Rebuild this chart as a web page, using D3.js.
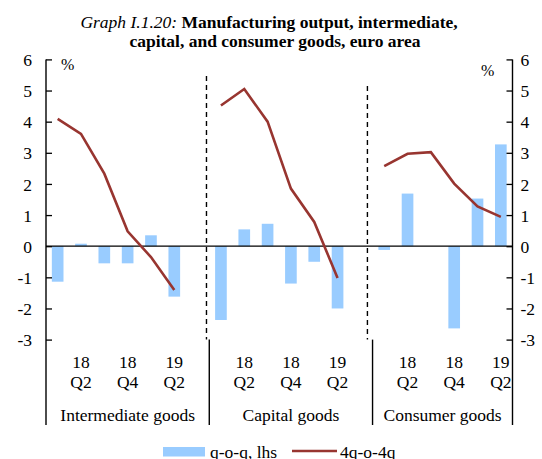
<!DOCTYPE html>
<meta charset="utf-8">
<style>
body { margin: 0; background: #fff; }
svg text { font-family: "Liberation Serif", "Times New Roman", serif; fill: #000; }
.title { font-size: 17.5px; }
.tick text { font-size: 17.5px; }
.cat { font-size: 17.5px; }
.legend text { font-size: 17.5px; }
</style>
<svg width="542" height="459"></svg>
<script src="https://cdn.jsdelivr.net/npm/d3@7/dist/d3.min.js"></script>
<script>

var groups = ["Intermediate goods", "Capital goods", "Consumer goods"];
var quarters = ["18 Q1", "18 Q2", "18 Q3", "18 Q4", "19 Q1", "19 Q2"];
var shownLabels = ["18 Q2", "18 Q4", "19 Q2"];

// q-o-q, lhs (bars)
var qoqIntermediate = [-1.14, 0.08, -0.55, -0.55, 0.35, -1.62];
var qoqCapital = [-2.37, 0.54, 0.72, -1.2, -0.5, -2.0];
var qoqConsumer = [-0.12, 1.69, 0.0, -2.64, 1.53, 3.27];

// 4q-o-4q (lines)
var yoyIntermediate = [4.09, 3.61, 2.33, 0.48, -0.35, -1.41];
var yoyCapital = [4.52, 5.05, 4.0, 1.85, 0.78, -1.02];
var yoyConsumer = [2.57, 2.97, 3.02, 2.01, 1.28, 0.94];

var yTicks = [6, 5, 4, 3, 2, 1, 0, -1, -2, -3];

var qoq = [qoqIntermediate, qoqCapital, qoqConsumer];
var yoy = [yoyIntermediate, yoyCapital, yoyConsumer];

var svg = d3.select("svg"),
    left = 46, right = 512.5;

// 20 slots: 6 quarters per group, one empty slot between groups
var slots = [];
groups.forEach(function(g, gi) {
    quarters.forEach(function(q) { slots.push(g + "|" + q); });
    if (gi < groups.length - 1) slots.push("gap" + gi);
});

var x = d3.scaleBand().domain(slots).range([left, right]).padding(0);
var y = d3.scaleLinear().domain([-3, 6]).range([339.6, 59.4]);

var barColor = "#99ccff", lineColor = "#983530";

// title
var title = svg.append("text").attr("class", "title").attr("text-anchor", "middle");
title.append("tspan").attr("x", 269).attr("y", 28)
    .style("font-style", "italic").text("Graph I.1.20: ");
title.append("tspan").style("font-weight", "bold").text("Manufacturing output, intermediate,");
svg.append("text").attr("class", "title").attr("text-anchor", "middle")
    .attr("x", 275).attr("y", 47).style("font-weight", "bold")
    .text("capital, and consumer goods,  euro area");

// bars
var barW = x.bandwidth() * 0.5;
var barData = [];
groups.forEach(function(g, gi) {
    quarters.forEach(function(q, qi) {
        barData.push({ key: g + "|" + q, v: qoq[gi][qi] });
    });
});
svg.append("g").selectAll("rect")
    .data(barData)
    .enter().append("rect")
    .attr("x", function(d) { return x(d.key) + (x.bandwidth() - barW) / 2; })
    .attr("width", barW)
    .attr("y", function(d) { return y(Math.max(0, d.v)); })
    .attr("height", function(d) { return Math.abs(y(d.v) - y(0)); })
    .attr("fill", barColor);

// zero line
svg.append("line")
    .attr("x1", left).attr("x2", right)
    .attr("y1", y(0)).attr("y2", y(0))
    .attr("stroke", "#000").attr("stroke-width", 1.3);

// dashed separators inside plot
var dashX = [x("gap0") + x.bandwidth() * 0.88, x("gap1") + x.bandwidth() * 0.78];
var dashTop = [76, 86];
dashX.forEach(function(dx, i) {
    svg.append("line")
        .attr("x1", dx).attr("x2", dx)
        .attr("y1", dashTop[i]).attr("y2", y(-3))
        .attr("stroke", "#000").attr("stroke-width", 1.4)
        .attr("stroke-dasharray", "5,4");
});

// lines
var line = d3.line()
    .x(function(d) { return x(d.key) + x.bandwidth() / 2; })
    .y(function(d) { return y(d.v); });
groups.forEach(function(g, gi) {
    var pts = quarters.map(function(q, qi) { return { key: g + "|" + q, v: yoy[gi][qi] }; });
    svg.append("path")
        .datum(pts)
        .attr("d", line)
        .attr("fill", "none")
        .attr("stroke", lineColor)
        .attr("stroke-width", 2.6);
});

// axes
var fmt = function(d) { return String(d); };
var leftAxis = svg.append("g")
    .attr("transform", "translate(" + left + ",0)")
    .call(d3.axisRight(y).tickValues(yTicks).tickSize(6).tickFormat(fmt));
leftAxis.selectAll("text").attr("x", -14).attr("text-anchor", "end");

var rightAxis = svg.append("g")
    .attr("transform", "translate(" + right + ",0)")
    .call(d3.axisLeft(y).tickValues(yTicks).tickSize(6).tickFormat(fmt));
rightAxis.selectAll("text").attr("x", 8).attr("text-anchor", "start");

[leftAxis, rightAxis].forEach(function(a) {
    a.select(".domain").remove();
    a.selectAll("line").attr("stroke", "#000").attr("stroke-width", 1.3);
    a.selectAll("text").attr("dy", "0.35em");
});

// vertical axis lines and group separators down to category labels
var sepX = [left, x("gap0") + x.bandwidth(), x("gap1") + x.bandwidth(), right];
sepX.forEach(function(sx, i) {
    svg.append("line")
        .attr("x1", sx).attr("x2", sx)
        .attr("y1", (i === 0 || i === 3) ? y(6) : y(-3))
        .attr("y2", 425)
        .attr("stroke", "#000").attr("stroke-width", 1.4);
});

svg.append("text").attr("x", 61).attr("y", 70).style("font-size", "16px").text("%");
svg.append("text").attr("x", 481).attr("y", 76).style("font-size", "16px").text("%");

// category labels
groups.forEach(function(g, gi) {
    shownLabels.forEach(function(lab) {
        var cx = x(g + "|" + lab) + x.bandwidth() / 2;
        var parts = lab.split(" ");
        var t = svg.append("text").attr("class", "cat").attr("text-anchor", "middle");
        t.append("tspan").attr("x", cx).attr("y", 368).text(parts[0]);
        t.append("tspan").attr("x", cx).attr("y", 388).text(parts[1]);
    });
    svg.append("text").attr("class", "cat").attr("text-anchor", "middle")
        .attr("x", (sepX[gi] + sepX[gi + 1]) / 2).attr("y", 421)
        .text(g);
});

// legend
var legend = svg.append("g").attr("class", "legend");
legend.append("rect").attr("x", 163).attr("y", 447).attr("width", 42).attr("height", 9.5).attr("fill", barColor);
legend.append("text").attr("x", 210).attr("y", 458).text("q-o-q, lhs");
legend.append("line").attr("x1", 292).attr("x2", 337).attr("y1", 451).attr("y2", 451)
    .attr("stroke", lineColor).attr("stroke-width", 2.6);
legend.append("text").attr("x", 340).attr("y", 458).text("4q-o-4q");

</script>
